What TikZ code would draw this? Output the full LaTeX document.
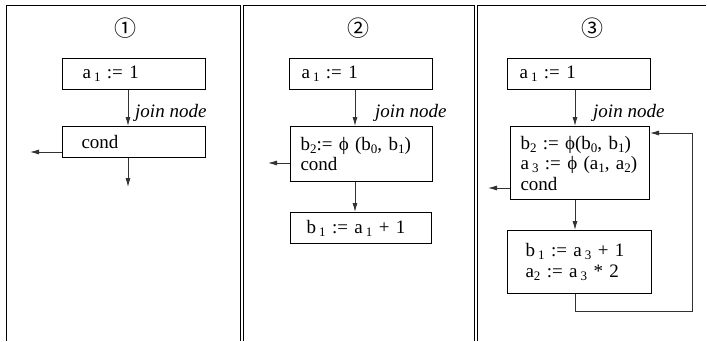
\documentclass[tikz,border=0pt]{standalone}
\usepackage{fontspec}
\setmainfont{Liberation Serif}
\newfontfamily\symfont{Noto Sans CJK SC}
\usetikzlibrary{arrows.meta,calc}
\newcommand\sbs[1]{\raisebox{-0.35ex}{\fontsize{13}{13}\selectfont #1}}
\begin{document}
\begin{tikzpicture}[x=1pt,y=-1pt,
  every node/.style={font=\fontsize{19}{20.5}\selectfont},
  frame/.style={line width=1pt, draw=black},
  blk/.style={draw=black, line width=1pt, rectangle, align=left, anchor=north west, inner ysep=0pt},
  conn/.style={line width=0.8pt, draw=black!80, -{Latex[length=9pt,width=5pt]}},
  lbl/.style={anchor=west, inner sep=0pt, font=\fontsize{19}{20}\selectfont\itshape},
  num/.style={inner sep=0pt, font=\fontsize{22}{22}\selectfont\symfont}]
\useasboundingbox (0,0) rectangle (707,341);
% frame
\draw[frame] (6,341) -- (6,5) -- (240.5,5) -- (240.5,341);
\draw[frame] (243.5,341) -- (243.5,5) -- (474.5,5) -- (474.5,341);
\draw[frame] (477.5,341) -- (477.5,5) -- (706,5);
% numbers
\node[num] (N1) at (125,28) {①};
\node[num] (N2) at (358,28) {②};
\node[num] (N3) at (592,28) {③};
% panel 1
\node[blk, minimum height=31, inner xsep=20, text width=103] (A1) at (62,58) {a\,\sbs{1} := 1};
\node[blk, minimum height=31, inner xsep=19, text width=105] (C1) at (62,126) {cond};
\node[lbl] (J1) at (135,113) {join node};
\coordinate (X1) at (128,0);
\coordinate (L1) at (30,152);
\coordinate (D1) at (128,187);
\draw[conn] (A1.south -| X1) -- (C1.north -| X1);
\draw[conn] (C1.west |- L1) -- (L1);
\draw[conn] (C1.south -| D1) -- (D1);
% panel 2
\node[blk, minimum height=31, inner xsep=12, text width=119] (A2) at (289,58) {a\,\sbs{1} := 1};
\node[blk, minimum height=55, inner xsep=10, text width=122] (M2) at (290,126) {\mbox{b\sbs{2}:= ϕ (b\sbs{0}, b\sbs{1})}\\cond};
\node[blk, minimum height=31, inner xsep=16, text width=109] (B2) at (290,212) {\mbox{b\,\sbs{1} := a\,\sbs{1} + 1}};
\node[lbl] (J2) at (375,113) {join node};
\coordinate (X2) at (355,0);
\coordinate (L2) at (268,163);
\draw[conn] (A2.south -| X2) -- (M2.north -| X2);
\draw[conn] (M2.west |- L2) -- (L2);
\draw[conn] (M2.south -| X2) -- (B2.north -| X2);
% panel 3
\node[blk, minimum height=31, inner xsep=12, text width=119] (A3) at (507,58) {a\,\sbs{1} := 1};
\node[blk, minimum height=73, inner xsep=10, text width=119] (M3) at (510,126) {\mbox{b\sbs{2} := ϕ(b\sbs{0}, b\sbs{1})}\\\mbox{a\,\sbs{3} := ϕ (a\sbs{1}, a\sbs{2})}\\cond};
\node[blk, minimum height=63, inner xsep=18, text width=108] (B3) at (507,230) {\mbox{b\,\sbs{1} := a\,\sbs{3} + 1}\\\mbox{a\sbs{2} := a\,\sbs{3} * 2}};
\node[lbl] (J3) at (593,113) {join node};
\coordinate (X3) at (575,0);
\coordinate (L3) at (488,188);
\coordinate (R3) at (692,311);
\coordinate (T3) at (692,133);
\draw[conn] (A3.south -| X3) -- (M3.north -| X3);
\draw[conn] (M3.west |- L3) -- (L3);
\draw[conn] (M3.south -| X3) -- (B3.north -| X3);
\draw[conn] (B3.south -| X3) |- (R3) -- (T3) -- (M3.east |- T3);
\end{tikzpicture}
\end{document}
